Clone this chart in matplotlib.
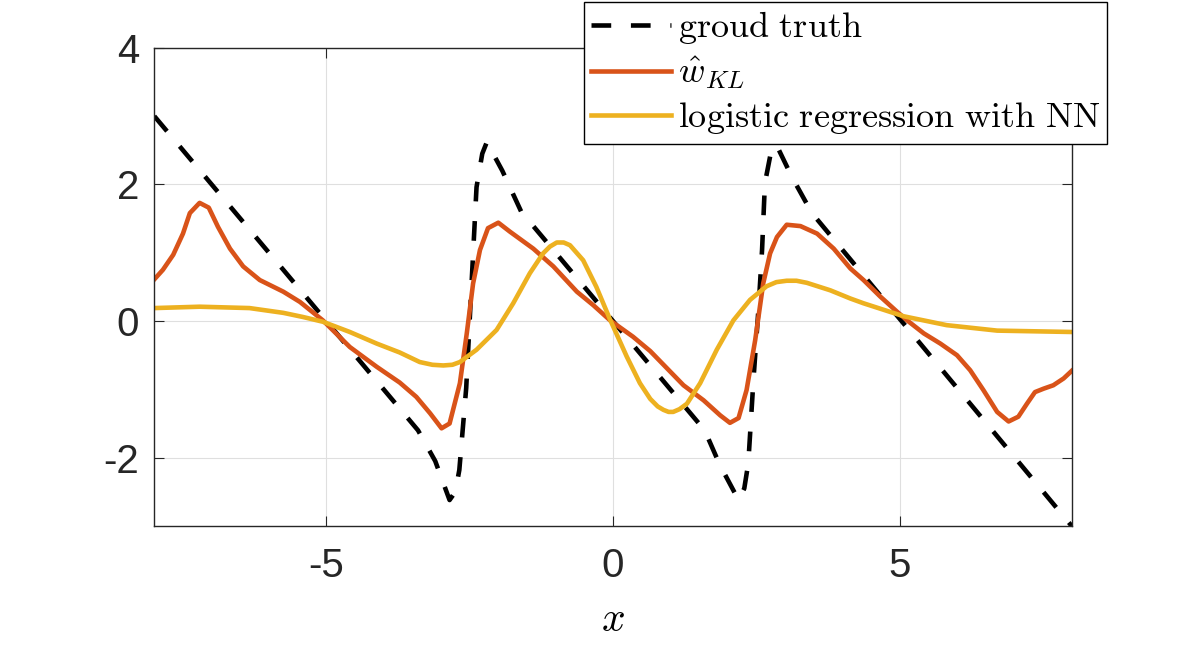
import matplotlib
matplotlib.use('Agg')
import matplotlib.pyplot as plt

# valores
gt_x = [-8.0, -3.4, -3.1, -2.85, -2.75, -2.68, -2.56, -2.47, -2.38, -2.28, -2.2, -1.93, -1.6,
        1.6, 1.86, 2.19, 2.29, 2.36, 2.45, 2.54, 2.60, 2.65, 2.75, 2.85, 3.12, 3.47, 8.0]
gt_y = [3.0, -1.6, -2.05, -2.62, -2.5, -2.18, -0.98, 0.49, 1.96, 2.45, 2.62, 2.2, 1.6,
        -1.6, -2.1, -2.62, -2.45, -2.08, -0.86, 0.21, 1.04, 2.02, 2.45, 2.58, 2.11, 1.58, -3.0]

kl_x = [-8.0, -7.85, -7.67, -7.5, -7.38, -7.21, -7.05, -6.89, -6.68, -6.45, -6.16, -5.75, -5.46,
        -5.06, -4.59, -4.12, -3.72, -3.43, -3.19, -2.99, -2.85, -2.67, -2.55, -2.44, -2.32, -2.18,
        -2.0, -1.80, -1.39, -1.04, -0.63, -0.34, -0.05, 0.35, 0.65, 0.94, 1.23, 1.58, 1.87, 2.04,
        2.19, 2.33, 2.48, 2.62, 2.74, 2.86, 3.03, 3.27, 3.56, 3.85, 4.14, 4.37, 4.66, 4.95, 5.13,
        5.42, 5.71, 6.00, 6.23, 6.46, 6.70, 6.90, 7.07, 7.22, 7.36, 7.51, 7.68, 7.86, 8.0]
kl_y = [0.61, 0.75, 0.97, 1.28, 1.58, 1.73, 1.66, 1.38, 1.06, 0.80, 0.60, 0.43, 0.28,
        0.01, -0.38, -0.67, -0.90, -1.11, -1.35, -1.57, -1.50, -0.91, -0.18, 0.55, 1.04, 1.36,
        1.44, 1.31, 1.06, 0.80, 0.43, 0.23, 0.01, -0.23, -0.44, -0.69, -0.94, -1.16, -1.38, -1.49,
        -1.42, -1.01, -0.28, 0.55, 0.99, 1.23, 1.41, 1.39, 1.28, 1.06, 0.77, 0.60, 0.36, 0.14, 0.01,
        -0.18, -0.33, -0.50, -0.72, -1.01, -1.33, -1.47, -1.40, -1.21, -1.04, -0.99, -0.94, -0.84, -0.73]

nn_x = [-8.0, -7.21, -6.34, -5.75, -5.41, -5.06, -4.59, -4.12, -3.72, -3.37, -3.15, -2.96, -2.80,
        -2.67, -2.38, -2.03, -1.74, -1.45, -1.22, -1.10, -0.98, -0.86, -0.75, -0.52, -0.29, -0.05,
        0.24, 0.47, 0.65, 0.78, 0.88, 0.97, 1.05, 1.16, 1.29, 1.52, 1.81, 2.10, 2.39, 2.68, 2.85,
        3.03, 3.20, 3.38, 3.79, 4.14, 4.37, 5.07, 5.82, 6.70, 8.0]
nn_y = [0.19, 0.21, 0.19, 0.12, 0.06, -0.01, -0.16, -0.33, -0.46, -0.60, -0.64, -0.65, -0.64,
        -0.60, -0.42, -0.13, 0.26, 0.70, 0.99, 1.09, 1.15, 1.15, 1.11, 0.89, 0.50, 0.02,
        -0.52, -0.91, -1.14, -1.25, -1.30, -1.33, -1.33, -1.29, -1.21, -0.91, -0.42, 0.01, 0.31, 0.51, 0.57,
        0.59, 0.59, 0.56, 0.45, 0.33, 0.26, 0.07, -0.06, -0.14, -0.16]

etiquetas = [r'$\mathrm{groud\ truth}$', r'$\hat{w}_{KL}$', r'$\mathrm{logistic\ regression\ with\ NN}$']

plt.rcParams['mathtext.fontset'] = 'cm'
plt.rcParams['axes.unicode_minus'] = False
plt.rcParams['font.family'] = ['Liberation Sans', 'DejaVu Sans']

fig = plt.figure(figsize=(11.86, 6.45), dpi=100)
ax = fig.add_axes([0.1301, 0.1845, 0.7735, 0.7414])

lw = 3.3
ax.plot(gt_x, gt_y, color='black', lw=lw, linestyle=(0, (4.3, 4.3)), label=etiquetas[0])
ax.plot(kl_x, kl_y, color='#D95319', lw=lw, label=etiquetas[1])
ax.plot(nn_x, nn_y, color='#EDB120', lw=lw, label=etiquetas[2])

ax.set_xlim(-8, 8)
ax.set_ylim(-3, 4)
ax.set_xticks([-5, 0, 5])
ax.set_yticks([-2, 0, 2, 4])
ax.grid(True, color='#DFDFDF', lw=0.8)
ax.set_axisbelow(True)
for s in ax.spines.values():
    s.set_color('#262626')
    s.set_linewidth(1.0)
ax.tick_params(direction='in', length=7, width=0.8, color='#262626', labelcolor='#262626',
               labelsize=29, top=True, right=True)
ax.tick_params(axis='x', pad=15)
ax.tick_params(axis='y', pad=11)
ax.set_xlabel('$x$', fontsize=30, labelpad=11)

leg = ax.legend(loc='upper left', bbox_to_anchor=(584 / 1186, 1 - 2 / 645),
                bbox_transform=fig.transFigure, fontsize=26, frameon=True, fancybox=False,
                framealpha=1, edgecolor='black', borderaxespad=0, borderpad=0.2,
                handlelength=2.2, handletextpad=0.2, labelspacing=0.25)
leg.get_frame().set_linewidth(1.0)

fig.savefig('out.png', dpi=100)
